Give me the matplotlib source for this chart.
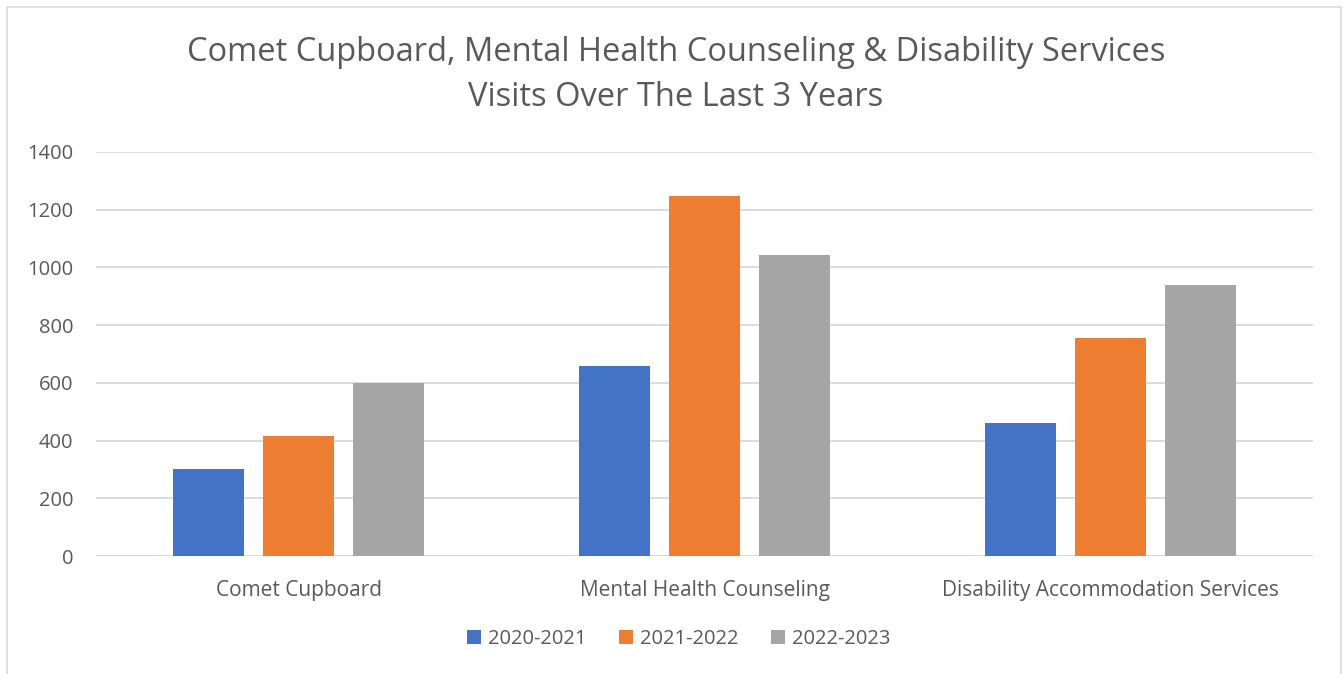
import numpy as np
import matplotlib.pyplot as plt
from matplotlib.patches import Rectangle

categories = ["Comet Cupboard", "Mental Health Counseling", "Disability Accommodation Services"]
years = ["2020-2021", "2021-2022", "2022-2023"]
visits_2020 = [300, 658, 461]
visits_2021 = [416, 1248, 757]
visits_2022 = [598, 1043, 938]
colors = ["#4472C4", "#ED7D31", "#A5A5A5"]

plt.rcParams['font.family'] = ['Open Sans', 'DejaVu Sans']
txt = "#595959"

fig = plt.figure(figsize=(13.43, 6.74), dpi=100)
ax = fig.add_axes([96/1343, 1-556/674, (1313-96)/1343, (556-152)/674])

x = np.arange(len(categories))
w = 0.175
step = 0.222
for i, (vals, lab) in enumerate(zip([visits_2020, visits_2021, visits_2022], years)):
    ax.bar(x + (i-1)*step, vals, w, color=colors[i], label=lab, zorder=3)

ax.set_xlim(-0.5, 2.5)
ax.set_ylim(0, 1400)
ax.set_yticks(range(0, 1401, 200))
ax.yaxis.grid(True, color="#d9d9d9", linewidth=1.3, zorder=0)
for s in ax.spines.values():
    s.set_visible(False)
ax.axhline(0, color="#d9d9d9", linewidth=1.3, zorder=1)
ax.tick_params(axis='y', length=0, labelsize=14.5, labelcolor=txt, pad=16.5)
ax.tick_params(axis='x', length=0, labelsize=15, labelcolor=txt, pad=17)
ax.set_xticks(x)
ax.set_xticklabels(categories)

fig.text(676/1343, 1-75/674, "Comet Cupboard, Mental Health Counseling & Disability Services\nVisits Over The Last 3 Years",
         ha='center', va='center', fontsize=23.5, color=txt, linespacing=1.5)

ax.legend(loc='center', bbox_to_anchor=(679/1343, 1-639/674), bbox_transform=fig.transFigure,
          ncol=3, frameon=False, fontsize=14.5, labelcolor=txt, handlelength=0.7, handleheight=0.7,
          handletextpad=0.35, columnspacing=1.6)

fig.patches.append(Rectangle((7/1343, -0.01), (1341-7)/1343, 1-7/674+0.01, transform=fig.transFigure,
                             fill=False, edgecolor="#d9d9d9", linewidth=1.2))

fig.savefig("out.png", dpi=100)
